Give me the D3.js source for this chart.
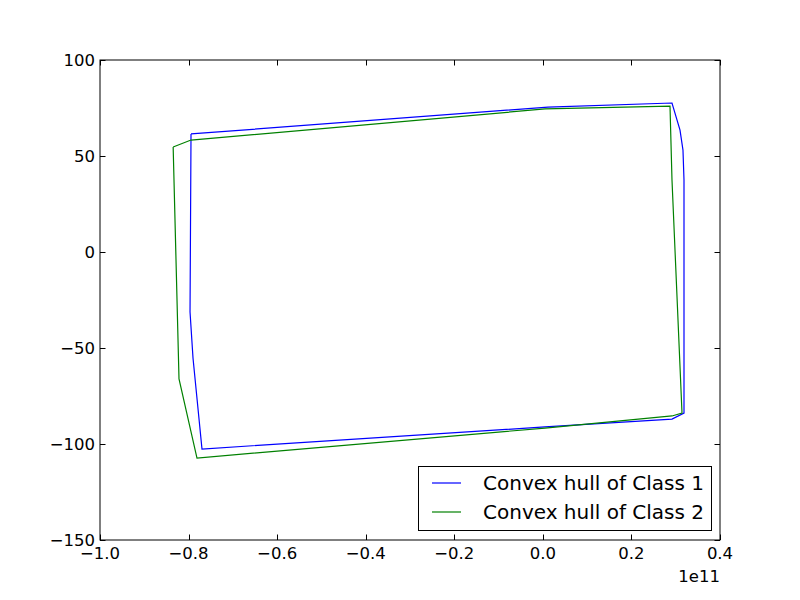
<!DOCTYPE html>
<html><head><meta charset="utf-8">
<script src="https://cdn.jsdelivr.net/npm/d3@7"></script>
<style>body{margin:0;background:#fff;} text{font-family:"DejaVu Sans",sans-serif;}</style>
</head><body>
<svg id="c" width="800" height="600"></svg>
<script>
// x values in units of 1e11
const class1X = [-0.7945,-0.7967,-0.790,-0.7697,0.0048,0.2916,0.3187,0.3187,0.3164,0.3097,0.2916,0.0116,-0.7945];
const class1Y = [61.5,-31.25,-55.2,-102.6,-91.1,-87.0,-83.9,37.5,53.1,63.5,77.6,75.5,61.5];
const class2X = [-0.8348,-0.7945,0.0048,0.2871,0.2916,0.3142,0.2916,0.0048,-0.7810,-0.8216,-0.8348];
const class2Y = [54.7,58.3,74.5,76.0,37.5,-83.9,-85.4,-91.7,-107.3,-66.1,54.7];
const seriesNames = ["Convex hull of Class 1","Convex hull of Class 2"];
const seriesColors = ["#0000ff","#008000"];
const xTicks = [-1.0,-0.8,-0.6,-0.4,-0.2,0.0,0.2,0.4];
const yTicks = [-150,-100,-50,0,50,100];

const svg = d3.select("#c");
const L=100,R=720,T=60,B=540;
const x = d3.scaleLinear().domain([-1.0,0.4]).range([L,R]);
const y = d3.scaleLinear().domain([-150,100]).range([B,T]);
const fs = "16.5px";
const minus = s => s.replace("-","\u2212");

const series = [
  class1X.map((v,i)=>[v,class1Y[i]]),
  class2X.map((v,i)=>[v,class2Y[i]])
];
const line = d3.line().x(d=>x(d[0])).y(d=>y(d[1]));
series.forEach((s,i)=>{
  svg.append("path").attr("d",line(s)).attr("fill","none")
    .attr("stroke",seriesColors[i]).attr("stroke-width",1.2);
});

// frame
svg.append("rect").attr("x",L).attr("y",T).attr("width",R-L).attr("height",B-T)
  .attr("fill","none").attr("stroke","#000").attr("stroke-width",1);

// ticks (inside, all sides)
const tl = 5.5;
const g = svg.append("g").attr("stroke","#000").attr("stroke-width",1);
xTicks.forEach(t=>{
  const px = Math.round(x(t))+0.5;
  g.append("line").attr("x1",px).attr("x2",px).attr("y1",B).attr("y2",B-tl);
  g.append("line").attr("x1",px).attr("x2",px).attr("y1",T).attr("y2",T+tl);
});
yTicks.forEach(t=>{
  const py = Math.round(y(t))+0.5;
  g.append("line").attr("y1",py).attr("y2",py).attr("x1",L).attr("x2",L+tl);
  g.append("line").attr("y1",py).attr("y2",py).attr("x1",R).attr("x2",R-tl);
});
xTicks.forEach(t=>{
  svg.append("text").attr("x",x(t)).attr("y",B+19).attr("text-anchor","middle")
    .attr("font-size",fs).text(minus(d3.format(".1f")(t)));
});
yTicks.forEach(t=>{
  svg.append("text").attr("x",L-5).attr("y",y(t)+5.5).attr("text-anchor","end")
    .attr("font-size",fs).text(minus(String(t)));
});
svg.append("text").attr("x",R).attr("y",582).attr("text-anchor","end")
  .attr("font-size",fs).text("1e11");

// legend
const lg = svg.append("g");
lg.append("rect").attr("x",418.5).attr("y",466.5).attr("width",293).attr("height",64)
  .attr("fill","#fff").attr("stroke","#000").attr("stroke-width",1);
seriesNames.forEach((n,i)=>{
  const yy = 483 + i*29;
  lg.append("line").attr("x1",432).attr("x2",461).attr("y1",yy).attr("y2",yy)
    .attr("stroke",seriesColors[i]).attr("stroke-width",1.2);
  lg.append("text").attr("x",483).attr("y",yy+7).attr("font-size","20px").text(n);
});
</script>
</body></html>
